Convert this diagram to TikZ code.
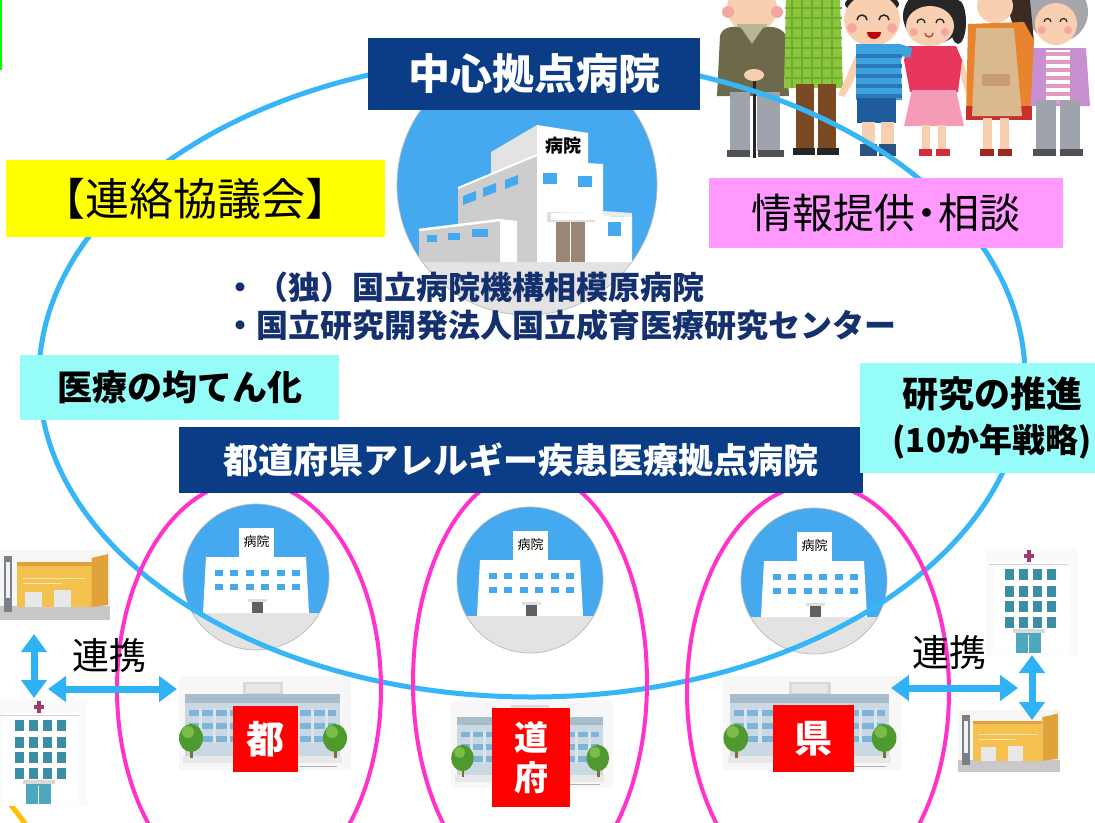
\documentclass[tikz,border=0pt]{standalone}
\usepackage{fontspec}
\setmainfont{Noto Sans CJK JP}
\usetikzlibrary{arrows.meta}

\newcommand\fsz[1]{\fontsize{#1}{#1}\selectfont}

\definecolor{navy}{HTML}{0B3D87}
\definecolor{orgnavy}{HTML}{14306E}
\definecolor{ringblue}{HTML}{36B5F7}
\definecolor{ringpink}{HTML}{FF33CC}
\definecolor{boxyellow}{HTML}{FFFF00}
\definecolor{boxpink}{HTML}{FF99FF}
\definecolor{boxcyan}{HTML}{96FCF8}
\definecolor{tagred}{HTML}{FF0000}
\definecolor{iconblue}{HTML}{45A9F0}
\definecolor{groundgray}{HTML}{E3E3E3}
\definecolor{wallgray}{HTML}{CDCDCD}
\definecolor{doorbrown}{HTML}{9C8573}
\definecolor{arrowblue}{HTML}{2EB1F5}
\definecolor{skin}{HTML}{F8CFB0}
\definecolor{cheek}{HTML}{F4A7A0}
\definecolor{olive}{HTML}{6D6A4B}
\definecolor{collar}{HTML}{B9B78F}
\definecolor{pantsgray}{HTML}{9EA3AC}
\definecolor{shoegray}{HTML}{4F5155}
\definecolor{checkgreen}{HTML}{8CC63F}
\definecolor{checkdark}{HTML}{6FAE2C}
\definecolor{trouser}{HTML}{7A4A24}
\definecolor{boyblue}{HTML}{3BA2DD}
\definecolor{boystripe}{HTML}{2A78B9}
\definecolor{shortsblue}{HTML}{1F5C9B}
\definecolor{sockblue}{HTML}{2A5382}
\definecolor{hairblack}{HTML}{262626}
\definecolor{girlred}{HTML}{E8375D}
\definecolor{skirtpink}{HTML}{F49BB6}
\definecolor{shoered}{HTML}{CF2F3A}
\definecolor{apronorange}{HTML}{E8842D}
\definecolor{apron}{HTML}{DBB98F}
\definecolor{apronpocket}{HTML}{C89D72}
\definecolor{skirtred}{HTML}{C7302B}
\definecolor{hairbrown}{HTML}{3B2B22}
\definecolor{hairgray}{HTML}{A6A6AB}
\definecolor{cardigan}{HTML}{C890D0}
\definecolor{blousepink}{HTML}{E39BC2}
\definecolor{facade}{HTML}{C9D8E2}
\definecolor{roofband}{HTML}{A9BCC9}
\definecolor{winband}{HTML}{7EB5D6}
\definecolor{treegreen}{HTML}{4F9A2F}
\definecolor{treelight}{HTML}{7BBB4B}
\definecolor{trunk}{HTML}{8A6A3A}
\definecolor{winteal}{HTML}{3A8FA6}
\definecolor{entteal}{HTML}{4BA8BE}
\definecolor{crossred}{HTML}{A23A6E}
\definecolor{shopyellow}{HTML}{F4C14F}
\definecolor{shopside}{HTML}{E2A23A}
\definecolor{shopground}{HTML}{C8C8C8}
\definecolor{poledark}{HTML}{7A8088}
\definecolor{marker}{HTML}{00FF00}
\definecolor{arcyellow}{HTML}{FFC000}

\tikzset{
  outerring/.style={ringblue, line width=5pt},
  prefring/.style={ringpink, line width=4pt},
  titlebox/.style={fill=navy, text=white, inner sep=0pt},
  notebox/.style={inner sep=0pt, text=black},
  tagbox/.style={fill=tagred, text=white, inner sep=0pt, font=\fsz{38}\bfseries},
  orgline/.style={anchor=west, inner sep=0pt, text=orgnavy, font=\fsz{32}\bfseries},
  linkarrow/.style={arrowblue, line width=7pt,
    {Triangle[width=25pt,length=18pt]}-{Triangle[width=25pt,length=18pt]}},
  linklabel/.style={font=\fsz{37}, inner sep=0pt},
  % round hospital icon, origin at the circle centre
  hospicon/.pic={
    \begin{scope}
      \clip (0,0) circle[radius=73];
      \fill[iconblue] (-75,-75) rectangle (75,36);
      \fill[groundgray] (-75,36) rectangle (75,75);
    \end{scope}
    \draw[gray!55, line width=0.7pt] (0,0) circle[radius=73];
    \fill[white] (-50,-20) -- (50,-20) -- (53,36) -- (-53,36) -- cycle;
    \fill[white] (-17,-49) rectangle (18,-18);
    \node[inner sep=0pt, font=\fsz{13}] (-sign) at (0.5,-35) {病院};
    \foreach \i in {0,...,5} {
      \fill[iconblue] ({-41+\i*15.4},-7) rectangle ++(8,6);
      \fill[iconblue] ({-41+\i*15.4},7) rectangle ++(8,6);
    }
    \fill[gray!25] (-8,22) rectangle (11,24.5);
    \fill[gray!75!black] (-4,25) rectangle (7,36);
  },
  % wide prefectural hospital with trees, origin at the centre
  cityhosp/.pic={
    \fill[gray!6] (-86,-46) rectangle (86,48);
    \fill[gray!30] (-22,-40) rectangle (18,-28);
    \fill[gray!18] (-19,-38) rectangle (15,-29);
    \fill[facade] (-80,-28) rectangle (75,36);
    \fill[roofband] (-80,-28) rectangle (75,-19);
    \foreach \yy in {-12,1,14} {
      \fill[winband] (-76,\yy) rectangle (71,\yy+6);
    }
    \foreach \xx in {-66,-52,...,64} {
      \fill[facade!70!white] (\xx,-13) rectangle (\xx+3,21);
    }
    \fill[gray!18] (-82,34) rectangle (77,41);
    \draw[gray!60, line width=1pt] (34,44) -- (72,44);
    \fill[trunk] (-75,22) rectangle (-72,36);
    \fill[treegreen] (-74,16) ellipse[x radius=12, y radius=14];
    \fill[treelight] (-77,10) circle[radius=6];
    \fill[trunk] (69,22) rectangle (72,36);
    \fill[treegreen] (70,16) ellipse[x radius=12, y radius=14];
    \fill[treelight] (67,10) circle[radius=6];
  },
  % tall hospital with cross, origin at the cross
  towerhosp/.pic={
    \fill[gray!4] (-44,-8) rectangle (48,99);
    \fill[white] (-36,6) rectangle (40,98);
    \draw[gray!35, line width=0.8pt] (-40,8) -- (40,8);
    \fill[crossred] (-1.6,-6) rectangle (1.6,6);
    \fill[crossred] (-5,-1.6) rectangle (5,1.6);
    \foreach \cx in {-24,-10,4,18} {
      \foreach \ry in {13,30,45,61} {
        \fill[winteal] (\cx,\ry) rectangle ++(9,11);
      }
    }
    \fill[gray!30] (-16,73) rectangle (16,77);
    \fill[entteal] (-13,77) rectangle (12,97);
    \draw[white, line width=0.8pt] (-0.5,79) -- (-0.5,97);
  },
  % small yellow shop with signboard, origin at the top-left corner
  shopbldg/.pic={
    \fill[gray!7] (0,0) rectangle (106,70);
    \fill[shopground] (0,56) rectangle (106,70);
    \fill[poledark] (4,6) rectangle (12,62);
    \fill[white!90!gray] (6,12) rectangle (10,48);
    \fill[shopyellow] (16,12) rectangle (88,57);
    \fill[shopside] (16,12) rectangle (88,16);
    \fill[shopside] (88,8) -- (104,4) -- (104,55) -- (88,57) -- cycle;
    \draw[white!60!shopyellow, line width=1pt] (22,28) -- (82,28);
    \draw[white!60!shopyellow, line width=1pt] (22,33) -- (60,33);
    \fill[white!82!gray] (24,42) rectangle (40,57);
    \fill[white!82!gray] (52,40) rectangle (68,57);
  },
}

\begin{document}
\begin{tikzpicture}[x=1pt, y=-1pt]
\useasboundingbox (0,0) rectangle (1095,822);
\clip (0,0) rectangle (1095,822);
\fill[white] (0,0) rectangle (1095,822);

% edge marks
\fill[marker] (0,0) rectangle (2,70);
\draw[arcyellow, line width=5pt] (8,801) -- (27,826);

% ---------- family group, top right ----------
% old man with cane
\fill[skin] (752,8) ellipse[x radius=25, y radius=25];
\fill[cheek] (728,12) circle[radius=6];
\fill[cheek] (777,12) circle[radius=6];
\fill[collar] (737,24) -- (767,24) -- (762,44) -- (742,44) -- cycle;
\fill[olive] (720,36) .. controls (722,27) and (734,25) .. (741,28) -- (752,44)
  -- (763,28) .. controls (771,25) and (783,28) .. (786,36) -- (789,96) -- (717,96) -- cycle;
\fill[pantsgray] (730,92) rectangle (750,151);
\fill[pantsgray] (757,92) rectangle (780,151);
\fill[shoegray] (727,150) rectangle (750,157);
\fill[shoegray] (758,150) rectangle (784,157);
\draw[black!85, line width=3pt] (754,70) -- (754,158);
\fill[skin] (754,75) ellipse[x radius=10, y radius=6];
% man in check shirt
\fill[checkgreen] (786,0) -- (840,0) -- (843,88) -- (784,88) -- cycle;
\foreach \xx in {792,802,...,838} {
  \draw[checkdark, line width=1.4pt] (\xx,0) -- (\xx,88);
}
\foreach \yy in {8,18,...,86} {
  \draw[checkdark, line width=1.4pt] (785,\yy) -- (842,\yy);
}
\fill[trouser] (796,84) rectangle (814,150);
\fill[trouser] (818,84) rectangle (836,150);
\fill[hairblack] (793,148) rectangle (815,155);
\fill[hairblack] (817,148) rectangle (839,155);
% girl
\fill[hairblack] (933,16) ellipse[x radius=30, y radius=28];
\fill[hairblack] (958,22) ellipse[x radius=8, y radius=22];
\fill[skin] (930,26) ellipse[x radius=24, y radius=20];
\fill[cheek] (914,32) circle[radius=4];
\fill[cheek] (945,32) circle[radius=4];
\draw[hairblack, line width=1.3pt] (917,23) arc[start angle=180, end angle=360, radius=4];
\draw[hairblack, line width=1.3pt] (936,23) arc[start angle=180, end angle=360, radius=4];
\draw[shoered, line width=1.3pt] (925,33) arc[start angle=180, end angle=0, radius=4];
\fill[skin] (956,60) -- (962,58) -- (972,92) -- (966,94) -- cycle;
\fill[girlred] (908,46) -- (956,46) -- (962,60) -- (958,92) -- (910,92) -- (904,60) -- cycle;
\fill[skirtpink] (912,90) -- (956,90) -- (964,126) -- (904,126) -- cycle;
\fill[skin] (922,125) rectangle (930,150);
\fill[skin] (938,125) rectangle (946,150);
\fill[shoered] (919,149) rectangle (932,156);
\fill[shoered] (936,149) rectangle (950,156);
% boy
\fill[hairblack] (872,4) ellipse[x radius=27, y radius=10];
\fill[skin] (872,20) ellipse[x radius=28, y radius=26];
\fill[cheek] (852,28) circle[radius=5];
\fill[cheek] (892,28) circle[radius=5];
\draw[hairblack, line width=1.5pt] (857,20) arc[start angle=180, end angle=360, radius=5];
\draw[hairblack, line width=1.5pt] (879,20) arc[start angle=180, end angle=360, radius=5];
\fill[red!75!black] (867,32) arc[start angle=180, end angle=0, radius=7] -- cycle;
\fill[skin] (857,52) -- (845,80) -- (838,95) -- (844,97) -- (853,82) -- (861,62) -- cycle;
\fill[boyblue] (856,44) -- (900,44) -- (912,48) -- (910,58) -- (901,56) -- (902,100) -- (856,100) -- cycle;
\foreach \yy in {54,64,...,94} {
  \fill[boystripe] (856,\yy) rectangle (902,\yy+4);
}
\fill[shortsblue] (857,98) rectangle (896,123);
\fill[skin] (862,122) rectangle (875,146);
\fill[skin] (881,122) rectangle (894,146);
\fill[sockblue] (860,144) rectangle (877,156);
\fill[sockblue] (879,144) rectangle (896,156);
% grandmother
\fill[hairgray] (1058,12) ellipse[x radius=30, y radius=30];
\fill[skin] (1056,24) ellipse[x radius=21, y radius=21];
\fill[cheek] (1042,30) circle[radius=4];
\fill[cheek] (1068,30) circle[radius=4];
\draw[hairblack, line width=1.2pt] (1044,22) arc[start angle=180, end angle=360, radius=3.5];
\draw[hairblack, line width=1.2pt] (1060,22) arc[start angle=180, end angle=360, radius=3.5];
\fill[cardigan] (1030,48) -- (1086,48) -- (1090,106) -- (1026,106) -- cycle;
\fill[white] (1046,50) rectangle (1070,102);
\foreach \yy in {52,60,...,100} {
  \fill[blousepink] (1046,\yy) rectangle (1070,\yy+4);
}
\fill[pantsgray] (1036,100) rectangle (1056,151);
\fill[pantsgray] (1060,100) rectangle (1080,151);
\fill[shoegray] (1033,149) rectangle (1056,156);
\fill[shoegray] (1060,149) rectangle (1083,156);
% mother with apron
\fill[hairbrown] (1006,0) -- (1030,0) -- (1034,42) -- (1020,46) -- (1010,16) -- cycle;
\fill[skin] (995,6) ellipse[x radius=18, y radius=17];
\fill[apronorange] (968,24) -- (1024,22) -- (1034,40) -- (1030,118) -- (966,118) -- cycle;
\fill[skirtred] (966,106) rectangle (1032,120);
\fill[apron] (976,28) -- (1014,28) -- (1022,116) -- (972,116) -- cycle;
\fill[apronpocket] (982,74) rectangle (1010,86);
\fill[skin] (983,118) rectangle (992,150);
\fill[skin] (1000,118) rectangle (1009,150);
\fill[skirtred!80!black] (980,149) rectangle (994,156);
\fill[skirtred!80!black] (998,149) rectangle (1012,156);

% ---------- central hospital icon ----------
\begin{scope}
  \clip (527,185) circle[radius=130];
  \fill[iconblue] (390,50) rectangle (660,262);
  \fill[groundgray] (390,262) rectangle (660,320);
  % tower side
  \fill[gray!22] (491,152) -- (537,125) -- (537,160) -- (491,176) -- cycle;
  % main block side
  \fill[wallgray] (458,188) -- (537,155) -- (537,262) -- (458,262) -- cycle;
  \draw[white, line width=2pt] (458,188) -- (537,155);
  \fill[iconblue] (463,196) -- (476,191) -- (476,200) -- (463,205) -- cycle;
  \fill[iconblue] (483,188) -- (496,183) -- (496,192) -- (483,197) -- cycle;
  \fill[iconblue] (505,180) -- (518,175) -- (518,184) -- (505,189) -- cycle;
  % front faces
  \fill[white] (537,125) -- (588,133) -- (588,166) -- (537,166) -- cycle;
  \node[inner sep=0pt, font=\fsz{18}\bfseries] (bigsign) at (563,146) {病院};
  \fill[white] (537,160) -- (603,164) -- (603,262) -- (537,262) -- cycle;
  \fill[iconblue] (543,173) rectangle (557,184);
  \fill[iconblue] (578,176) rectangle (592,187);
  % right annex
  \fill[gray!15] (603,211) -- (632,213) -- (632,217) -- (603,216) -- cycle;
  \fill[white] (603,216) -- (632,217) -- (632,262) -- (603,262) -- cycle;
  \fill[iconblue] (608,222) rectangle (621,236);
  % entrance
  \fill[gray!25] (547,212) -- (595,213) -- (595,222) -- (547,222) -- cycle;
  \fill[white] (551,213) rectangle (595,220);
  \fill[doorbrown] (556,222) rectangle (585,262);
  \draw[white, line width=1pt] (570.5,222) -- (570.5,262);
  % left wing
  \fill[wallgray] (419,231) -- (500,221) -- (500,262) -- (419,262) -- cycle;
  \draw[white, line width=2.5pt] (419,230) -- (500,220);
  \fill[white] (500,219) -- (517,221) -- (517,262) -- (500,262) -- cycle;
  \fill[iconblue] (427,235) rectangle (437,242);
  \fill[iconblue] (448,233) rectangle (460,240);
  \fill[iconblue] (472,229) rectangle (488,237);
\end{scope}
\draw[gray!55, line width=0.7pt] (527,185) circle[radius=130];

% ---------- prefectural hospital icons ----------
\pic (iconL) at (256,577) {hospicon};
\pic (iconM) at (530,580) {hospicon};
\pic (iconR) at (814,581) {hospicon};

\pic (bldgL) at (265,722) {cityhosp};
\pic[scale=0.94] (bldgM) at (532,743) {cityhosp};
\pic[xscale=1.03] (bldgR) at (812,722) {cityhosp};

% ---------- partner facilities ----------
\pic[xscale=1.04] (shopL) at (0,550) {shopbldg};
\pic (towerL) at (39,707) {towerhosp};
\pic (towerR) at (1029,556) {towerhosp};
\pic[xscale=0.96, yscale=0.89] (shopR) at (958,710) {shopbldg};

% ---------- rings ----------
\draw[outerring] (532,377) ellipse[x radius=493, y radius=320];
\draw[prefring] (249,689) ellipse[x radius=132, y radius=208];
\draw[prefring] (530,682) ellipse[x radius=117, y radius=211];
\draw[prefring] (818,692) ellipse[x radius=131, y radius=208];

% ---------- labels ----------
\node[titlebox, font=\fsz{42}\bfseries, minimum width=332pt, minimum height=72pt]
  (central) at (534,74) {中心拠点病院};
\node[titlebox, font=\fsz{35}\bfseries, minimum width=684pt, minimum height=66pt]
  (prefhosp) at (521,460) {都道府県アレルギー疾患医療拠点病院};
\node[notebox, fill=boxyellow, font=\fsz{44}, minimum width=379pt, minimum height=77pt]
  (council) at (195.5,198.5) {【連絡協議会】};
\node[notebox, fill=boxpink, font=\fsz{41}, minimum width=354pt, minimum height=70pt]
  (info) at (886,213) {情報提供\hspace{-0.22em}・\hspace{-0.22em}相談};
\node[notebox, fill=boxcyan, font=\fsz{35}\bfseries, minimum width=319pt, minimum height=65pt]
  (equal) at (179.5,387.5) {医療の均てん化};
\node[notebox, fill=boxcyan, font=\fontsize{36}{45}\selectfont\bfseries, align=center,
  minimum width=264pt, minimum height=110pt]
  (research) at (992,418) {研究の推進\\{\fsz{33}(10か年戦略)}};

\node[orgline] (org1) at (224,287) {・（独）国立病院機構相模原病院};
\node[orgline] (org2) at (224,325) {・国立研究開発法人国立成育医療研究センター};

\node[tagbox, minimum width=65pt, minimum height=66pt] (tagTo) at (265.5,739) {都};
\node[tagbox, font=\fontsize{34}{40}\selectfont\bfseries, align=center,
  minimum width=78pt, minimum height=99pt] (tagDoFu) at (531,757.5) {道\\府};
\node[tagbox, minimum width=81pt, minimum height=67pt] (tagKen) at (813.5,738.5) {県};

% ---------- cooperation arrows ----------
\coordinate (shopLfoot) at (34,634);
\coordinate (towerLtop) at (34,698);
\coordinate (towerLside) at (48,689);
\coordinate (bldgLside) at (177,689);
\coordinate (bldgRside) at (891,688);
\coordinate (towerRside) at (1018,688);
\coordinate (towerRfoot) at (1032,655);
\coordinate (shopRtop) at (1032,720);
\draw[linkarrow] (shopLfoot) -- (towerLtop);
\draw[linkarrow] (towerLside) -- (bldgLside);
\draw[linkarrow] (bldgRside) -- (towerRside);
\draw[linkarrow] (towerRfoot) -- (shopRtop);
\node[linklabel] (linkL) at (109,655) {連携};
\node[linklabel] (linkR) at (949,652) {連携};
\end{tikzpicture}
\end{document}
